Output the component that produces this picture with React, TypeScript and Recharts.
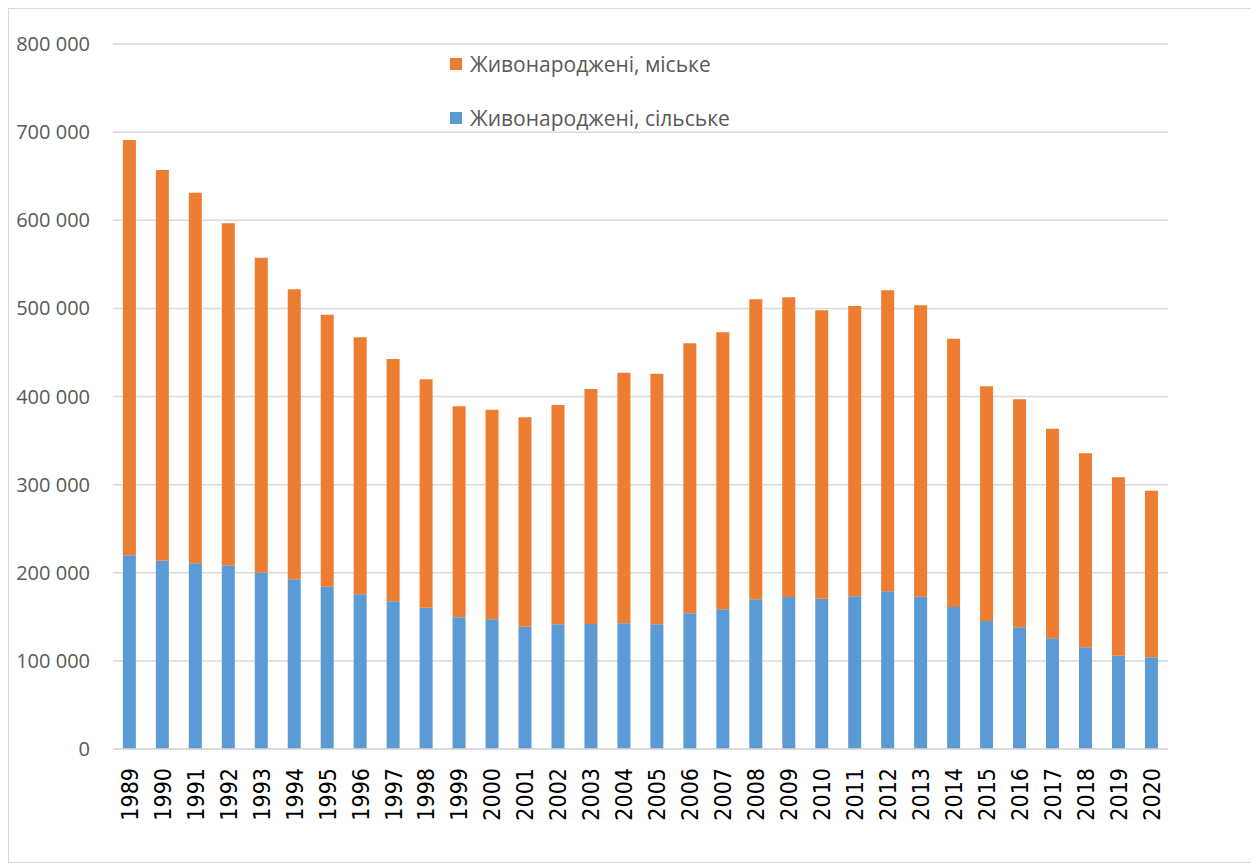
import React from "react";
import { BarChart, Bar, XAxis, YAxis, CartesianGrid, Legend } from "recharts";

const years = [
  "1989", "1990", "1991", "1992", "1993", "1994", "1995", "1996", "1997", "1998",
  "1999", "2000", "2001", "2002", "2003", "2004", "2005", "2006", "2007", "2008",
  "2009", "2010", "2011", "2012", "2013", "2014", "2015", "2016", "2017", "2018",
  "2019", "2020",
];

const rural = [
  219800, 213700, 210700, 208400, 200100, 192500, 184200, 175500, 167600, 160400,
  149400, 147100, 138800, 141500, 141800, 142600, 141500, 154000, 158500, 169900,
  172500, 170600, 173200, 178900, 172900, 161100, 145200, 138100, 125600, 115400,
  105900, 104000,
];

const urban = [
  471200, 443300, 420600, 388100, 357400, 329100, 308700, 291700, 274900, 259100,
  239500, 237900, 237600, 248900, 266700, 284400, 284400, 306300, 314300, 340400,
  340100, 327200, 329500, 341600, 330600, 304500, 266400, 258700, 237900, 220100,
  202400, 189100,
];

const yTicks = [0, 100000, 200000, 300000, 400000, 500000, 600000, 700000, 800000];

const seriesUrban = "Живонароджені, міське";
const seriesRural = "Живонароджені, сільське";

const data = years.map((y, i) => ({ year: y, rural: rural[i], urban: urban[i] }));

const ORANGE = "#ED7D31";
const BLUE = "#5B9BD5";
const GREY = "#595959";
const GRID = "#d9d9d9";

const fmt = (v: number) => {
  if (v === 0) return "0";
  const s = String(v);
  return s.slice(0, s.length - 3) + " " + s.slice(s.length - 3);
};

const XTick = (props: any) => {
  const { x, y, payload } = props;
  return (
    <g transform={`translate(${x},${y})`}>
      <text
        transform="rotate(-90)"
        textAnchor="end"
        dy="0.36em"
        fill="#000"
        fontSize={23}
        fontFamily="'DejaVu Sans Condensed', 'DejaVu Sans', sans-serif"
      >
        {payload.value}
      </text>
    </g>
  );
};

const LegendContent = () => (
  <div style={{ fontFamily: "'Open Sans', sans-serif", fontSize: 21, color: GREY }}>
    {[
      { name: seriesUrban, color: ORANGE },
      { name: seriesRural, color: BLUE },
    ].map((it, i) => (
      <div
        key={it.name}
        style={{ display: "flex", alignItems: "center", height: 28, marginBottom: i === 0 ? 26 : 0 }}
      >
        <span style={{ display: "inline-block", width: 12, height: 12, background: it.color, marginRight: 8 }} />
        <span style={{ whiteSpace: "nowrap" }}>{it.name}</span>
      </div>
    ))}
  </div>
);

export default function App() {
  return (
    <div
      style={{
        width: 1247,
        height: 853,
        border: `1px solid ${GRID}`,
        background: "#fff",
        position: "relative",
      }}
    >
      <BarChart
        width={1247}
        height={853}
        data={data}
        margin={{ top: 35, right: 88, bottom: 0, left: 0 }}
        barCategoryGap="30%"
      >
        <CartesianGrid vertical={false} stroke={GRID} strokeWidth={1.5} />
        <XAxis
          dataKey="year"
          axisLine={{ stroke: GRID, strokeWidth: 1.5 }}
          tickLine={false}
          interval={0}
          height={113}
          tickMargin={13}
          tick={<XTick />}
        />
        <YAxis
          width={104}
          domain={[0, 800000]}
          ticks={yTicks}
          interval={0}
          axisLine={false}
          tickLine={false}
          tickMargin={17}
          tickFormatter={fmt}
          tick={{ fill: GREY, fontSize: 20, fontFamily: "'Open Sans', sans-serif" }}
        />
        <Legend
          layout="vertical"
          align="center"
          verticalAlign="middle"
          content={<LegendContent />}
          wrapperStyle={{ position: "absolute", top: 41, left: 441, width: 340 }}
        />
        <Bar dataKey="rural" name={seriesRural} stackId="a" fill={BLUE} isAnimationActive={false} />
        <Bar dataKey="urban" name={seriesUrban} stackId="a" fill={ORANGE} isAnimationActive={false} />
      </BarChart>
    </div>
  );
}
